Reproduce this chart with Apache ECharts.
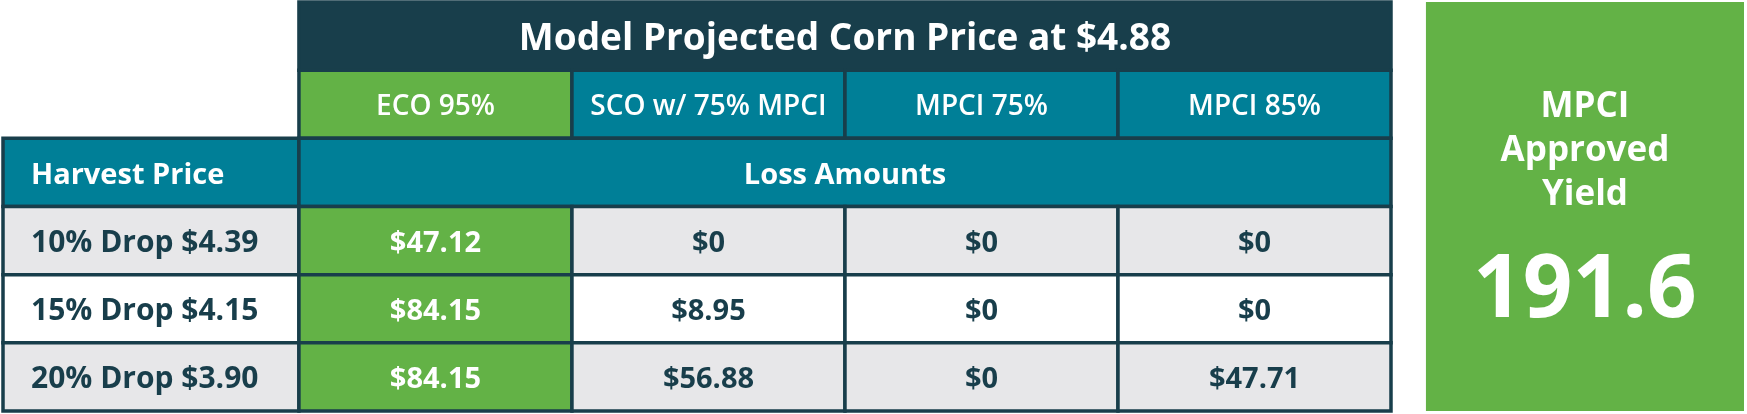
<!DOCTYPE html>
<html>
<head>
<meta charset="utf-8">
<script src="https://cdn.jsdelivr.net/npm/echarts@6/dist/echarts.min.js"></script>
<style>
  html, body { margin: 0; padding: 0; background: #ffffff; }
  #chart { width: 1747px; height: 414px; }
</style>
</head>
<body>
<div id="chart"></div>
<script>
'use strict';

// values
var projectedPrice = 4.88;
var approvedYield = 191.6;
var coverages = ['ECO 95%', 'SCO w/ 75% MPCI', 'MPCI 75%', 'MPCI 85%'];
var harvestPrices = ['10% Drop $4.39', '15% Drop $4.15', '20% Drop $3.90'];
var lossEco95 = [47.12, 84.15, 84.15];
var lossSco75 = [0, 8.95, 56.88];
var lossMpci75 = [0, 0, 0];
var lossMpci85 = [0, 0, 47.71];
var lossColumns = [lossEco95, lossSco75, lossMpci75, lossMpci85];

var NAVY = '#183e4b';
var TEAL = '#007f97';
var GREEN = '#63b246';
var GRAY = '#e7e7e9';
var FONT = '"Open Sans", "Liberation Sans", sans-serif';

// layout in column units: label column is a bit wider than a data column
var labelWidth = 1.084;
var gapWidth = 0.128;
var yieldWidth = 1.165;

var money = function (v) {
    return v === 0 ? '$0' : '$' + v.toFixed(2);
};

var styles = {
    title:  { fill: NAVY, color: '#ffffff', size: 37, weight: 700 },
    eco:    { fill: GREEN, color: '#ffffff', size: 28, weight: 600 },
    cover:  { fill: TEAL, color: '#ffffff', size: 28, weight: 600 },
    head:   { fill: TEAL, color: '#ffffff', size: 29, weight: 700, align: 'left' },
    headC:  { fill: TEAL, color: '#ffffff', size: 29, weight: 700 },
    label:  { fill: GRAY, color: NAVY, size: 30, weight: 700, align: 'left' },
    cell:   { fill: GRAY, color: NAVY, size: 29, weight: 700 },
    green:  { fill: GREEN, color: '#ffffff', size: 29, weight: 700 },
    yield:  { fill: GREEN, color: '#ffffff', size: 35, weight: 700 }
};

var cells = [];
var addCell = function (x0, x1, y0, y1, text, role, fill) {
    cells.push({ x0: x0, x1: x1, y0: y0, y1: y1, text: text, role: role, fill: fill });
};

addCell(0, 4, 0, 1, 'Model Projected Corn Price at $' + projectedPrice.toFixed(2), 'title');
coverages.forEach(function (name, i) {
    addCell(i, i + 1, 1, 2, name, i === 0 ? 'eco' : 'cover');
});
addCell(-labelWidth, 0, 2, 3, 'Harvest Price', 'head');
addCell(0, 4, 2, 3, 'Loss Amounts', 'headC');
harvestPrices.forEach(function (name, r) {
    var zebra = r % 2 === 1 ? '#ffffff' : GRAY;
    addCell(-labelWidth, 0, r + 3, r + 4, name, 'label', zebra);
    lossColumns.forEach(function (col, c) {
        addCell(c, c + 1, r + 3, r + 4, money(col[r]), c === 0 ? 'green' : 'cell', c === 0 ? null : zebra);
    });
});
addCell(4 + gapWidth, 4 + gapWidth + yieldWidth, 0, 6, 'MPCI\nApproved\nYield', 'yield');

var renderItem = function (params, api) {
    var c = cells[params.dataIndex];
    var s = styles[c.role];
    var p0 = api.coord([c.x0, c.y0]);
    var p1 = api.coord([c.x1, c.y1]);
    var w = p1[0] - p0[0];
    var h = p1[1] - p0[1];
    var children = [{
        type: 'rect',
        shape: { x: p0[0], y: p0[1], width: w, height: h },
        style: {
            fill: c.fill || s.fill,
            stroke: c.role === 'yield' ? null : NAVY,
            lineWidth: 3.5
        }
    }];
    if (c.role === 'yield') {
        children.push({
            type: 'text',
            style: {
                x: p0[0] + w / 2, y: p0[1] + h * 0.365,
                text: c.text, fill: s.color,
                font: s.weight + ' ' + s.size + 'px ' + FONT,
                lineHeight: 44,
                align: 'center', verticalAlign: 'middle'
            }
        });
        children.push({
            type: 'text',
            style: {
                x: p0[0] + w / 2, y: p0[1] + h * 0.71,
                text: String(approvedYield), fill: s.color,
                font: '700 87px ' + FONT,
                align: 'center', verticalAlign: 'middle'
            }
        });
    } else {
        var left = s.align === 'left';
        children.push({
            type: 'text',
            style: {
                x: left ? p0[0] + 28 : p0[0] + w / 2,
                y: p0[1] + h / 2 + 3,
                text: c.text, fill: s.color,
                font: s.weight + ' ' + s.size + 'px ' + FONT,
                align: left ? 'left' : 'center', verticalAlign: 'middle'
            }
        });
    }
    return { type: 'group', children: children };
};

var chart = echarts.init(document.getElementById('chart'), null, { renderer: 'canvas' });
chart.setOption({
    animation: false,
    grid: { left: 3, right: 3, top: 2, bottom: 3 },
    xAxis: { type: 'value', min: -labelWidth, max: 4 + gapWidth + yieldWidth, show: false },
    yAxis: { type: 'value', min: 0, max: 6, inverse: true, show: false },
    series: [{
        type: 'custom',
        renderItem: renderItem,
        data: cells.map(function (c) { return [c.x0, c.y0, c.x1, c.y1]; }),
        encode: { x: [0, 2], y: [1, 3] }
    }]
});
</script>
</body>
</html>
